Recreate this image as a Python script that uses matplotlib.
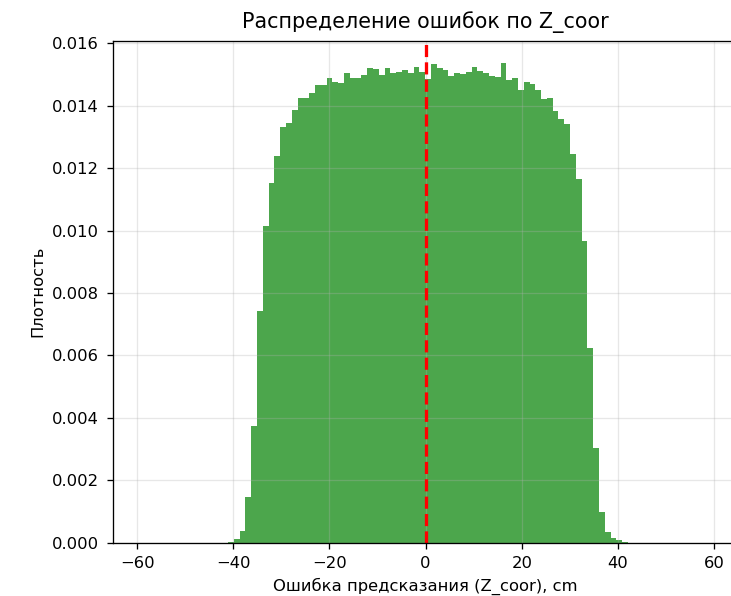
import numpy as np
import matplotlib
matplotlib.use("Agg")
import matplotlib.pyplot as plt

# histogram of prediction errors (density)
bin_start = -41.1
bin_width = 1.206
density = [
    0.00003, 0.00013, 0.00037, 0.00146, 0.00375, 0.00741, 0.01013, 0.01152,
    0.01239, 0.01330, 0.01346, 0.01387, 0.01426, 0.01426, 0.01440, 0.01467,
    0.01467, 0.01490, 0.01476, 0.01472, 0.01503, 0.01488, 0.01490, 0.01499,
    0.01519, 0.01517, 0.01498, 0.01519, 0.01503, 0.01509, 0.01514, 0.01506,
    0.01524, 0.01509, 0.01485, 0.01532, 0.01522, 0.01514, 0.01495, 0.01506,
    0.01500, 0.01508, 0.01525, 0.01510, 0.01506, 0.01495, 0.01492, 0.01535,
    0.01482, 0.01487, 0.01450, 0.01477, 0.01469, 0.01451, 0.01421, 0.01426,
    0.01384, 0.01357, 0.01340, 0.01245, 0.01165, 0.00965, 0.00623, 0.00303,
    0.00098, 0.00034, 0.00015, 0.00010, 0.00003,
]

title = "Распределение ошибок по Z_coor"
xlabel = "Ошибка предсказания (Z_coor), cm"
ylabel = "Плотность"

edges = bin_start + bin_width * np.arange(len(density) + 1)
centers = (edges[:-1] + edges[1:]) / 2

dpi = 118
fig = plt.figure(figsize=(731 / dpi, 596 / dpi), dpi=dpi)
ax = fig.add_axes([0.1542, 0.0894, 0.8561, 0.8423])

ax.hist(centers, bins=edges, weights=density, color="green", alpha=0.7)
ax.axvline(0, color="red", linestyle="--", linewidth=2)

ax.set_xlim(-65.1, 65.1)
ax.set_ylim(0, 0.01608)
ax.tick_params(axis="both", pad=4.8)
ax.set_title(title, fontsize=12.6, pad=7.5)
ax.set_xlabel(xlabel)
ax.set_ylabel(ylabel)
ax.grid(True, alpha=0.3)

fig.savefig("out.png", dpi=dpi)
